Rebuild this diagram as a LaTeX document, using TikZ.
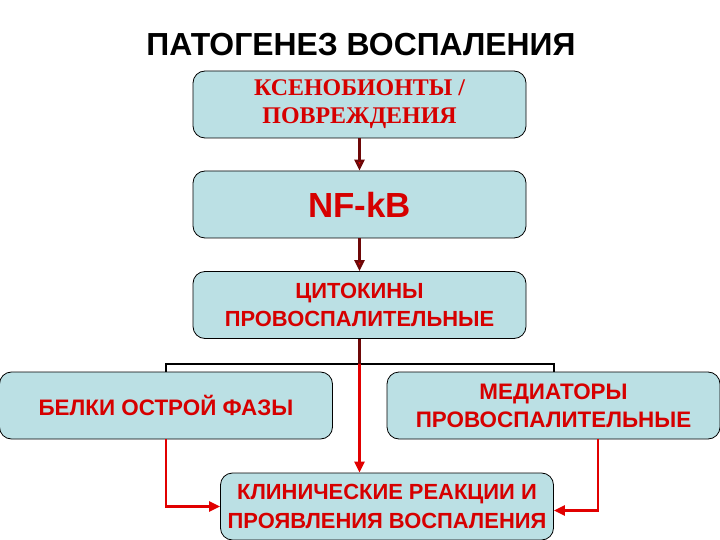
\documentclass[tikz,border=0pt]{standalone}
\usepackage{fontspec}
\setmainfont{Liberation Serif}
\newfontfamily\arialfont{Liberation Sans}
\usepackage{tikz}
\usetikzlibrary{positioning,arrows.meta,calc}

\definecolor{boxfill}{RGB}{187,224,228}
\definecolor{textred}{RGB}{214,0,0}
\definecolor{linered}{RGB}{225,0,0}
\definecolor{darkline}{RGB}{110,8,8}

\begin{document}
\begin{tikzpicture}[x=1bp,y=-1bp,
  box/.style={draw=black, line width=0.8bp, fill=boxfill, rounded corners=12bp,
    minimum width=333bp, minimum height=67bp, align=center, text=textred,
    inner sep=0pt},
  sansbox/.style={box, font=\arialfont\bfseries\fontsize{22.5}{28}\selectfont},
  darkarrow/.style={draw=darkline, line width=2.5bp, -{Triangle[length=11bp,width=10bp,fill=linered]}},
  redarrow/.style={draw=linered, line width=2.5bp, -{Triangle[length=11bp,width=10bp]}},
  bracket/.style={draw=black, line width=2bp}]
\useasboundingbox (0,0) rectangle (720,540);
% title
\node[font=\arialfont\bfseries\fontsize{32}{36}\selectfont] (title) at (361,45) {ПАТОГЕНЕЗ ВОСПАЛЕНИЯ};
% main chain
\node[box, font=\bfseries\fontsize{24}{28}\selectfont] (xeno) at (359.5,104.5) {КСЕНОБИОНТЫ /\\ПОВРЕЖДЕНИЯ};
\node[box, font=\arialfont\bfseries\fontsize{35}{40}\selectfont] (nfkb) at (359.5,204.5) {NF-kB};
\node[box, font=\arialfont\bfseries\fontsize{22}{28}\selectfont] (cyto) at (359.5,305) {ЦИТОКИНЫ\\ПРОВОСПАЛИТЕЛЬНЫЕ};
\node[sansbox] (acute) at (166,405.5) {БЕЛКИ ОСТРОЙ ФАЗЫ};
\node[sansbox] (medi) at (553.5,405.5) {МЕДИАТОРЫ\\ПРОВОСПАЛИТЕЛЬНЫЕ};
\node[sansbox, font=\arialfont\bfseries\fontsize{22}{29}\selectfont] (clin) at (387,506.5) {КЛИНИЧЕСКИЕ РЕАКЦИИ И\\ПРОЯВЛЕНИЯ ВОСПАЛЕНИЯ};
\coordinate (fork) at (359.5,364);
% connectors
\draw[darkarrow] (xeno) -- (nfkb);
\draw[darkarrow] (nfkb) -- (cyto);
\draw[bracket] (acute.north) |- (fork) -| (medi.north);
\draw[draw=darkline, line width=2.5bp] (cyto) -- (fork);
\draw[redarrow] (fork) -- (fork |- clin.north);
\draw[redarrow] (acute.south) |- (clin.west);
\draw[redarrow] ([xshift=44.5bp]medi.south) |- ([yshift=-4bp]clin.east);
\end{tikzpicture}
\end{document}
